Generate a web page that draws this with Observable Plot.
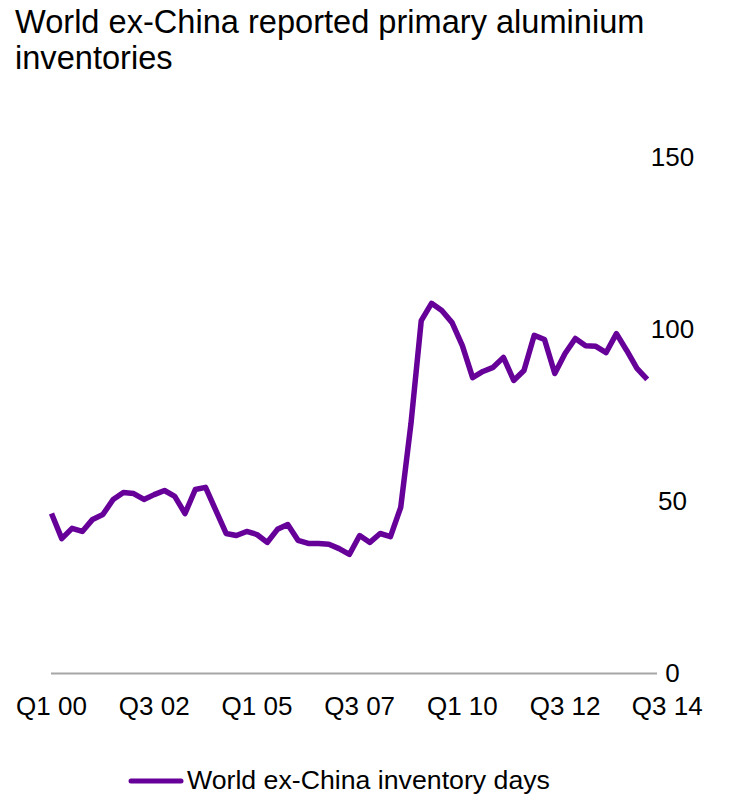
<!DOCTYPE html>
<html>
<head>
<meta charset="utf-8">
<script src="https://cdn.jsdelivr.net/npm/d3@7"></script>
<script src="https://cdn.jsdelivr.net/npm/@observablehq/plot@0.6"></script>
<style>
  html, body { margin: 0; padding: 0; background: #fff; }
  body { width: 749px; height: 797px; position: relative; overflow: hidden; font-family: "Liberation Sans", Arial, sans-serif; color: #000; }
  #title { position: absolute; left: 15px; top: 4px; font-size: 32.6px; line-height: 36px; width: 720px; }
  #chart { position: absolute; left: 0; top: 80px; }
  #legend { position: absolute; left: 128px; top: 765px; font-size: 26.7px; display: flex; align-items: center; white-space: nowrap; }
  #legend svg { margin-right: 3px; }
</style>
</head>
<body>
<div id="title">World ex-China reported primary aluminium<br>inventories</div>
<div id="chart"></div>
<div id="legend"><svg width="56" height="10"><line x1="3" y1="5" x2="53" y2="5" stroke="#660099" stroke-width="5" stroke-linecap="round"/></svg><span>World ex-China inventory days</span></div>
<script>
// Quarterly values, Q1 2000 .. Q3 2014 (index 0..58)
const seriesName = "World ex-China inventory days";
const inventoryDays = [
  46.5, 39.2, 42.2, 41.3, 44.8, 46.2, 50.6, 52.6, 52.3, 50.6,
  52.0, 53.2, 51.5, 46.5, 53.5, 54.1, 47.4, 40.7, 40.1, 41.3,
  40.4, 38.1, 41.9, 43.3, 38.7, 37.8, 37.8, 37.6, 36.3, 34.6,
  40.1, 38.1, 40.7, 39.8, 48.3, 72.7, 102.6, 107.6, 105.5, 102.0,
  95.3, 86.0, 87.8, 89.0, 91.9, 85.2, 88.1, 98.3, 97.1, 87.2,
  93.0, 97.4, 95.3, 95.1, 93.3, 98.8, 93.9, 88.7, 85.5
];
const xTickIndex = [0, 10, 20, 30, 40, 50];
const xTickLabels = ["Q1 00", "Q3 02", "Q1 05", "Q3 07", "Q1 10", "Q3 12"];
const lastTickIndex = [58];
const lastTickLabel = ["Q3 14"];
const yTicks = [0, 50, 100, 150];

const data = inventoryDays.map((v, i) => ({ i, v }));

const chart = Plot.plot({
  width: 749,
  height: 660,
  marginLeft: 51,
  marginRight: 92,
  marginTop: 77,
  marginBottom: 67,
  style: { fontFamily: "Liberation Sans, Arial, sans-serif", fontSize: "26px", color: "#000", background: "#fff" },
  x: { domain: [0, 59] },
  y: { domain: [0, 150] },
  marks: [
    Plot.ruleY([0], { stroke: "#a6a6a6", strokeWidth: 2 }),
    Plot.axisY({ anchor: "right", ticks: yTicks, tickSize: 0, tickPadding: 15, textAnchor: "middle", label: null, fontSize: 26 }),
    Plot.axisX({ ticks: xTickIndex, tickFormat: (d) => xTickLabels[xTickIndex.indexOf(d)], tickSize: 0, tickPadding: 23, label: null, fontSize: 26 }),
    Plot.axisX({ ticks: lastTickIndex, tickFormat: (d) => lastTickLabel[lastTickIndex.indexOf(d)], tickSize: 0, tickPadding: 23, dx: 20, label: null, fontSize: 26 }),
    Plot.line(data, { x: "i", y: "v", stroke: "#660099", strokeWidth: 5.5, strokeLinejoin: "round", strokeLinecap: "butt" })
  ]
});
document.getElementById("chart").appendChild(chart);
</script>
</body>
</html>
